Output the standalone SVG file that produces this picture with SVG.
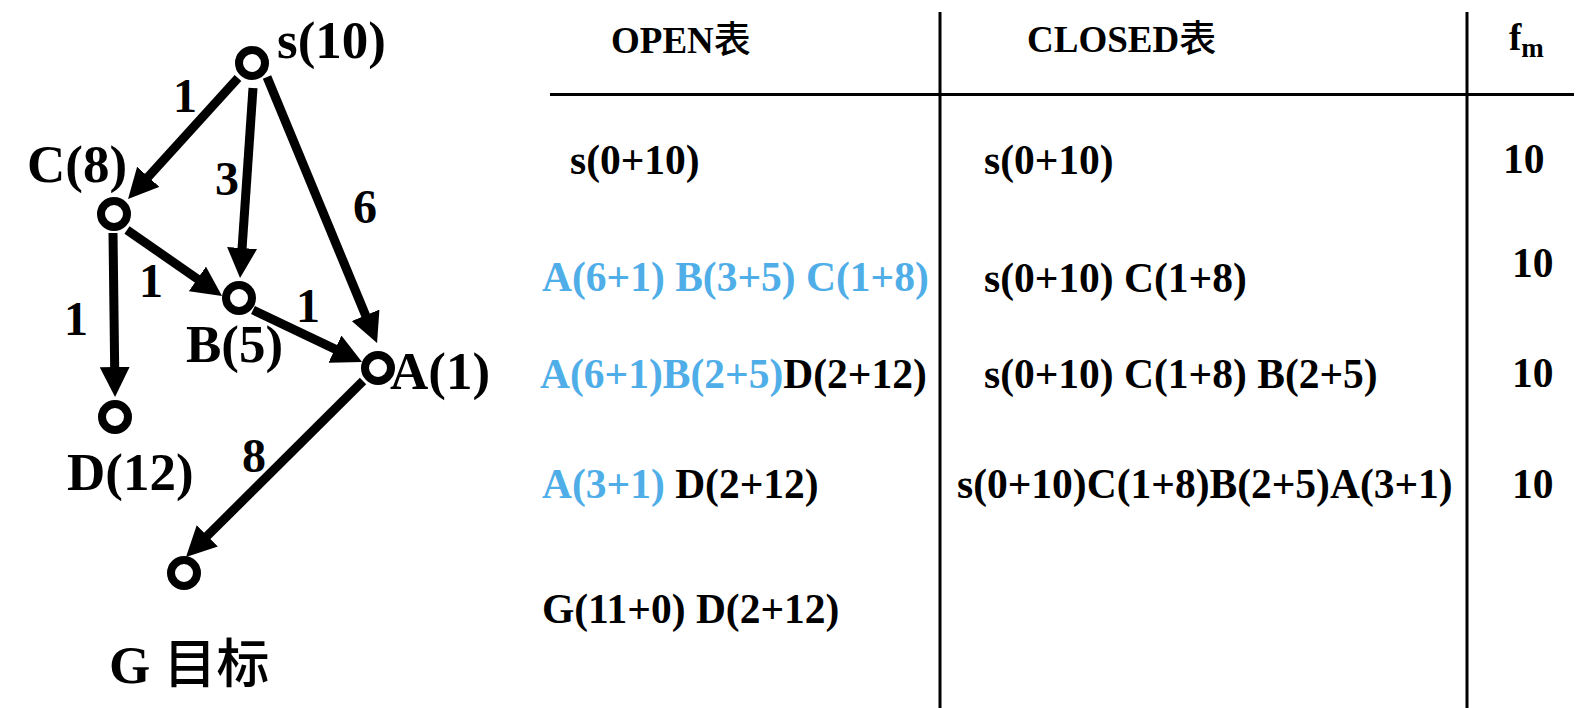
<svg xmlns="http://www.w3.org/2000/svg" width="1596" height="708" viewBox="0 0 1596 708">
<style>
text{font-family:"Liberation Serif","Noto Sans CJK SC",serif;font-weight:bold;fill:#000}
.lbl{font-size:53px}
.w{font-size:48px;text-anchor:middle}
.hd{font-size:37px}
.cell{font-size:41.5px}
.blue{fill:#4FAEE8}
.node{fill:#fff;stroke:#000;stroke-width:8}
.edge{stroke:#000;stroke-width:9;fill:none;marker-end:url(#ah)}
.rule{stroke:#000;stroke-width:3}
.cjk{font-family:"Noto Sans CJK SC",sans-serif;font-weight:500}
</style>
<defs>
<marker id="ah" viewBox="0 0 30 30" markerWidth="30" markerHeight="30" markerUnits="userSpaceOnUse" refX="10" refY="15" orient="auto">
<path d="M0,0 L30,15 L0,30 z" fill="#000"/>
</marker>
</defs>
<rect width="1596" height="708" fill="#fff"/>
<g id="connectors">
<line class="edge" x1="238" y1="78" x2="141.5" y2="184.2"/>
<line class="edge" x1="253" y1="88" x2="241.4" y2="258"/>
<line class="edge" x1="267" y1="77" x2="369.4" y2="324.5"/>
<line class="edge" x1="127" y1="230" x2="205.6" y2="284.6"/>
<line class="edge" x1="253" y1="310" x2="344" y2="353.4"/>
<line class="edge" x1="113" y1="233" x2="114.8" y2="377"/>
<line class="edge" x1="363" y1="381" x2="200.2" y2="542.9"/>
<text class="w" x="185" y="112">1</text>
<text class="w" x="227" y="195">3</text>
<text class="w" x="365" y="223">6</text>
<text class="w" x="151" y="297">1</text>
<text class="w" x="308" y="322">1</text>
<text class="w" x="76" y="335">1</text>
<text class="w" x="254" y="472">8</text>
</g>
<g id="node-s"><circle class="node" cx="252" cy="63" r="13"/><text class="lbl" x="277" y="58">s(10)</text></g>
<g id="node-C"><circle class="node" cx="114" cy="214" r="13"/><text class="lbl" x="27" y="182">C(8)</text></g>
<g id="node-B"><circle class="node" cx="239" cy="298" r="13"/><text class="lbl" x="186" y="362">B(5)</text></g>
<g id="node-A"><circle class="node" cx="378" cy="368" r="13"/><text class="lbl" x="390" y="389">A(1)</text></g>
<g id="node-D"><circle class="node" cx="115" cy="417" r="13"/><text class="lbl" x="67" y="490">D(12)</text></g>
<g id="node-G"><circle class="node" cx="184" cy="573" r="13"/><text class="lbl" x="109" y="683">G <tspan class="cjk">目标</tspan></text></g>
<g id="table">
<line class="rule" x1="940" y1="12" x2="940" y2="708"/>
<line class="rule" x1="1467" y1="12" x2="1467" y2="708"/>
<line class="rule" x1="550" y1="94.5" x2="1574" y2="94.5"/>
<text class="hd" x="611" y="53">OPEN<tspan class="cjk">表</tspan></text>
<text class="hd" x="1027" y="52">CLOSED<tspan class="cjk">表</tspan></text>
<text class="hd" x="1509" y="50">f<tspan font-size="27" y="57">m</tspan></text>
<text class="cell" x="570" y="174">s(0+10)</text>
<text class="cell blue" x="542" y="291">A(6+1) B(3+5) C(1+8)</text>
<text class="cell" x="540" y="388"><tspan class="blue">A(6+1)B(2+5)</tspan>D(2+12)</text>
<text class="cell" x="542" y="498"><tspan class="blue">A(3+1)</tspan> D(2+12)</text>
<text class="cell" x="542" y="623">G(11+0) D(2+12)</text>
<text class="cell" x="984" y="174">s(0+10)</text>
<text class="cell" x="984" y="292">s(0+10) C(1+8)</text>
<text class="cell" x="984" y="388">s(0+10) C(1+8) B(2+5)</text>
<text class="cell" x="957" y="498">s(0+10)C(1+8)B(2+5)A(3+1)</text>
<text class="cell" x="1503" y="173">10</text>
<text class="cell" x="1512" y="277">10</text>
<text class="cell" x="1512" y="387">10</text>
<text class="cell" x="1512" y="498">10</text>
</g>
</svg>
